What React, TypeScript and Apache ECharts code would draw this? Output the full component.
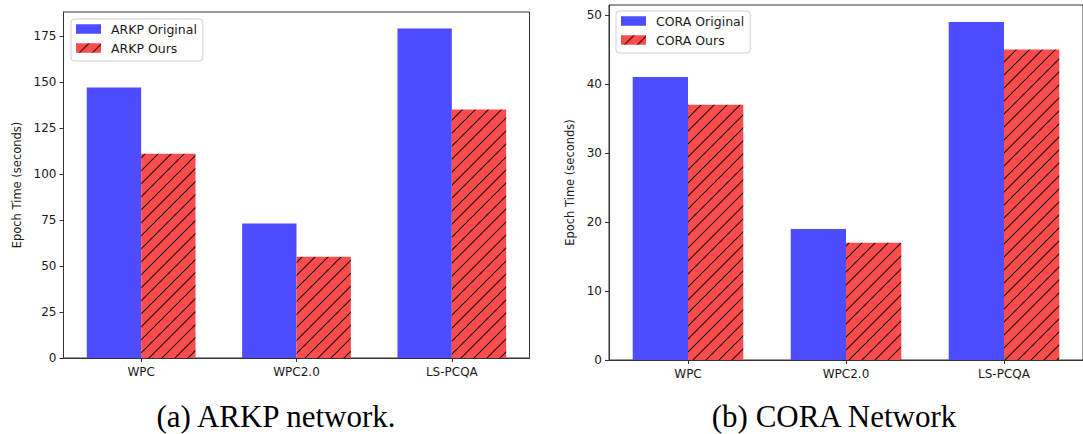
import React, { useEffect, useRef } from "react";
import * as echarts from "echarts";

const categories = ["WPC", "WPC2.0", "LS-PCQA"];
const arkpOriginal = [147, 73, 179];
const arkpOurs = [111, 55, 135];
const coraOriginal = [41, 19, 49];
const coraOurs = [37, 17, 45];
const arkpTicks = [0, 25, 50, 75, 100, 125, 150, 175];
const coraTicks = [0, 10, 20, 30, 40, 50];
const arkpNames = ["ARKP Original", "ARKP Ours"];
const coraNames = ["CORA Original", "CORA Ours"];
const captions = ["(a) ARKP network.", "(b) CORA Network"];
const yTitle = "Epoch Time (seconds)";

const BLUE = "#4d4dff";
const RED = "#ff4d4d";
const AX = "#333333";
const TXT = "#1a1a1a";
const FONT = "DejaVu Sans";

function makeHatch() {
  const s = 13;
  const c = document.createElement("canvas");
  c.width = s;
  c.height = s;
  const ctx = c.getContext("2d")!;
  ctx.fillStyle = RED;
  ctx.fillRect(0, 0, s, s);
  ctx.strokeStyle = "rgba(0,0,0,0.9)";
  ctx.lineWidth = 1.1;
  for (const k of [-1, 0, 1]) {
    ctx.beginPath();
    ctx.moveTo(k * s - 1, s + 1);
    ctx.lineTo(k * s + s + 1, -1);
    ctx.stroke();
  }
  return c;
}

export default function App() {
  const ref = useRef<HTMLDivElement>(null);
  useEffect(() => {
    if (!ref.current) return;
    const chart = echarts.init(ref.current, undefined, { renderer: "svg" });
    const hatch = { image: makeHatch(), repeat: "repeat" } as any;

    const xAxisCommon = (gridIndex: number) => ({
      type: "category",
      gridIndex,
      data: categories,
      axisLine: { show: true, lineStyle: { color: AX, width: 1 } },
      axisTick: { show: true, alignWithLabel: true, length: 4, lineStyle: { color: AX } },
      axisLabel: { color: TXT, fontFamily: FONT, fontSize: 12, margin: 8 },
      splitLine: { show: false },
    });
    const yAxisCommon = (gridIndex: number, max: number, ticks: number[]) => ({
      type: "value",
      gridIndex,
      min: 0,
      max,
      axisLine: { show: true, lineStyle: { color: AX, width: 1 } },
      axisTick: { show: true, length: 4, lineStyle: { color: AX }, customValues: ticks },
      axisLabel: { color: TXT, fontFamily: FONT, fontSize: 12, margin: 7, customValues: ticks },
      splitLine: { show: false },
    });
    const legendCommon = (left: number, top: number, data: string[]) => ({
      show: true,
      orient: "vertical",
      left,
      top,
      data,
      itemWidth: 25,
      itemHeight: 9.5,
      itemGap: 5,
      padding: [3, 6, 6, 5],
      borderColor: "#d0d0d0",
      borderWidth: 1,
      borderRadius: 3,
      backgroundColor: "rgba(255,255,255,0.8)",
      icon: "rect",
      textStyle: {
        color: TXT,
        fontFamily: FONT,
        fontSize: 12.5,
        lineHeight: 14,
        padding: [0, 0, 0, 5],
      },
    });
    const bar = (name: string, data: number[], idx: number, color: any) => ({
      type: "bar",
      name,
      data,
      xAxisIndex: idx,
      yAxisIndex: idx,
      barWidth: "35%",
      barGap: "0%",
      itemStyle: { color },
    });

    chart.setOption({
      animation: false,
      grid: [
        { left: 63.5, top: 12, width: 466, height: 346, show: true, borderColor: AX, borderWidth: 1, backgroundColor: "transparent" },
        { left: 609, top: 5, width: 481, height: 355, show: true, borderColor: AX, borderWidth: 1, backgroundColor: "transparent" },
      ],
      xAxis: [xAxisCommon(0), xAxisCommon(1)],
      yAxis: [yAxisCommon(0, 179 * 1.05, arkpTicks), yAxisCommon(1, 49 * 1.05, coraTicks)],
      legend: [legendCommon(71, 19, arkpNames), legendCommon(616, 11, coraNames)],
      series: [
        bar(arkpNames[0], arkpOriginal, 0, BLUE),
        bar(arkpNames[1], arkpOurs, 0, hatch),
        bar(coraNames[0], coraOriginal, 1, BLUE),
        bar(coraNames[1], coraOurs, 1, hatch),
      ],
      graphic: [
        {
          type: "text",
          x: 17,
          y: 185,
          rotation: Math.PI / 2,
          style: { text: yTitle, fill: TXT, font: `11.5px '${FONT}'`, align: "center", verticalAlign: "middle" },
        },
        {
          type: "text",
          x: 570,
          y: 182.5,
          rotation: Math.PI / 2,
          style: { text: yTitle, fill: TXT, font: `11.5px '${FONT}'`, align: "center", verticalAlign: "middle" },
        },
        {
          type: "text",
          x: 276,
          y: 416,
          style: { text: captions[0], fill: "#000", font: "31px 'Liberation Serif'", align: "center", verticalAlign: "middle" },
        },
        {
          type: "text",
          x: 834,
          y: 416,
          style: { text: captions[1], fill: "#000", font: "31px 'Liberation Serif'", align: "center", verticalAlign: "middle" },
        },
      ],
    });
    return () => chart.dispose();
  }, []);
  return (
    <div
      ref={ref}
      style={{ position: "absolute", left: 0, top: 0, width: 1083, height: 434, background: "#fff" }}
    />
  );
}
